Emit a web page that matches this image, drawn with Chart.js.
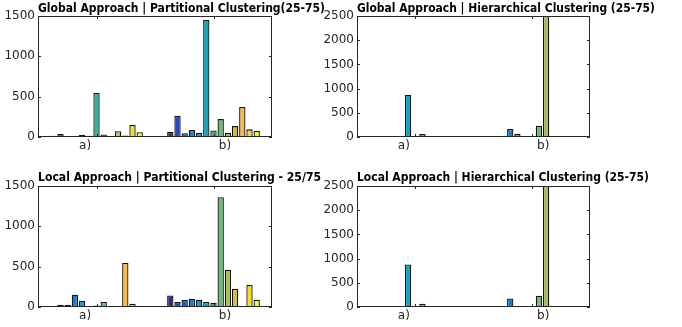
<!DOCTYPE html>
<html>
<head>
<meta charset="utf-8">
<script src="https://cdn.jsdelivr.net/npm/chart.js@4.4.0/dist/chart.umd.min.js"></script>
<style>
  body { margin: 0; background: #fff; width: 682px; height: 327px; overflow: hidden; position: relative; }
  .box { position: absolute; }
</style>
</head>
<body>
<div class="box" style="left:0;top:0;width:341px;height:163px"><canvas id="c1"></canvas></div>
<div class="box" style="left:300px;top:0;width:382px;height:163px"><canvas id="c2"></canvas></div>
<div class="box" style="left:0;top:163px;width:341px;height:164px"><canvas id="c3"></canvas></div>
<div class="box" style="left:300px;top:163px;width:382px;height:164px"><canvas id="c4"></canvas></div>
<script>
// categories (labels padded so they sit off-centre like the original)
const categories = ['a)      ', '      b)'];

// 13 series per group, parula-like colours
const colors = ['#352A87', '#2A46C2', '#0D5FDC', '#1382D4', '#0B9BCF', '#07A9C1', '#2BB59E',
                '#68BE74', '#A6BE5A', '#D7B94B', '#FCBB3C', '#F5DA26', '#F9F90E'];

const globalPartA = [15, 37, 12, 3, 25, 15, 545, 30, 8, 72, 20, 150, 60];
const globalPartB = [62, 262, 48, 88, 50, 1450, 80, 222, 54, 135, 372, 95, 76];

const globalHierA = [10, 2, 2, 15, 2, 875, 12, 60, 2, 10, 2, 2, 2];
const globalHierB = [2, 2, 10, 165, 65, 2, 15, 230, 2500, 2, 15, 3, 3];

const localPartA = [5, 27, 27, 152, 78, 13, 20, 63, 8, 10, 545, 40, 15];
const localPartB = [143, 62, 87, 103, 90, 62, 54, 1360, 461, 226, 4, 272, 90];

const localHierA = [10, 3, 3, 15, 3, 880, 10, 65, 3, 5, 3, 3, 3];
const localHierB = [2, 2, 12, 175, 2, 5, 8, 233, 2500, 2, 20, 3, 3];

const yTicksPart = [0, 500, 1000, 1500];
const yTicksHier = [0, 500, 1000, 1500, 2000, 2500];

const AXIS = '#262626';

// box round the plot, inward ticks, and the title (left aligned on the axes)
const frame = {
  id: 'frame',
  afterDraw(chart, args, opts) {
    const { ctx, chartArea: a, scales } = chart;
    ctx.save();
    ctx.strokeStyle = AXIS;
    ctx.lineWidth = 1;
    ctx.strokeRect(a.left + 0.5, a.top + 0.5, a.right - a.left - 1, a.bottom - a.top - 1);
    ctx.beginPath();
    scales.y.ticks.forEach(t => {
      const y = Math.round(scales.y.getPixelForValue(t.value)) + 0.5;
      ctx.moveTo(a.left, y); ctx.lineTo(a.left + 3, y);
      ctx.moveTo(a.right - 3, y); ctx.lineTo(a.right, y);
    });
    categories.forEach((c, i) => {
      const x = Math.round(scales.x.getPixelForValue(i)) + 0.5;
      ctx.moveTo(x, a.top); ctx.lineTo(x, a.top + 3);
      ctx.moveTo(x, a.bottom - 3); ctx.lineTo(x, a.bottom);
    });
    ctx.stroke();
    ctx.fillStyle = '#000';
    ctx.font = 'bold 12px "DejaVu Sans"';
    ctx.textAlign = 'left';
    ctx.textBaseline = 'alphabetic';
    ctx.fillText(opts.text, a.left, a.top - opts.gap, opts.width);
    ctx.restore();
  }
};

function makeChart(id, title, titleWidth, A, B, yTicks, box) {
  const datasets = colors.map((c, i) => ({
    data: [A[i], B[i]],
    backgroundColor: c,
    borderColor: '#141414',
    borderWidth: 1.3,
    barPercentage: 0.88,
    categoryPercentage: 0.8
  }));
  return new Chart(document.getElementById(id), {
    type: 'bar',
    data: { labels: categories, datasets },
    options: {
      responsive: true,
      maintainAspectRatio: false,
      animation: false,
      devicePixelRatio: 1,
      layout: { padding: { left: 0, right: box.R, top: box.T, bottom: 0 } },
      plugins: {
        legend: { display: false },
        tooltip: { enabled: false },
        frame: { text: title, width: titleWidth, gap: box.gap }
      },
      scales: {
        x: {
          grid: { display: false, drawTicks: false },
          border: { display: false },
          ticks: { color: AXIS, font: { family: 'DejaVu Sans', size: 12 }, padding: 2, maxRotation: 0, autoSkip: false },
          afterFit: s => { s.height = box.B; }
        },
        y: {
          min: 0,
          max: yTicks[yTicks.length - 1],
          grid: { display: false, drawTicks: false },
          border: { display: false },
          afterBuildTicks: s => { s.ticks = yTicks.map(v => ({ value: v })); },
          ticks: { color: AXIS, font: { family: 'DejaVu Sans', size: 12 }, padding: 3, callback: v => String(v) },
          afterFit: s => { s.width = box.L; }
        }
      }
    },
    plugins: [frame]
  });
}

makeChart('c1', 'Global Approach | Partitional Clustering(25-75)', 287,
  globalPartA, globalPartB, yTicksPart, { L: 38, R: 69, T: 16, B: 26, gap: 4 });
makeChart('c2', 'Global Approach | Hierarchical Clustering (25-75)', 298,
  globalHierA, globalHierB, yTicksHier, { L: 57, R: 92, T: 16, B: 26, gap: 4 });
makeChart('c3', 'Local Approach | Partitional Clustering - 25/75', 283,
  localPartA, localPartB, yTicksPart, { L: 38, R: 69, T: 23, B: 20, gap: 5 });
makeChart('c4', 'Local Approach | Hierarchical Clustering (25-75)', 292,
  localHierA, localHierB, yTicksHier, { L: 57, R: 92, T: 23, B: 20, gap: 5 });
</script>
</body>
</html>
